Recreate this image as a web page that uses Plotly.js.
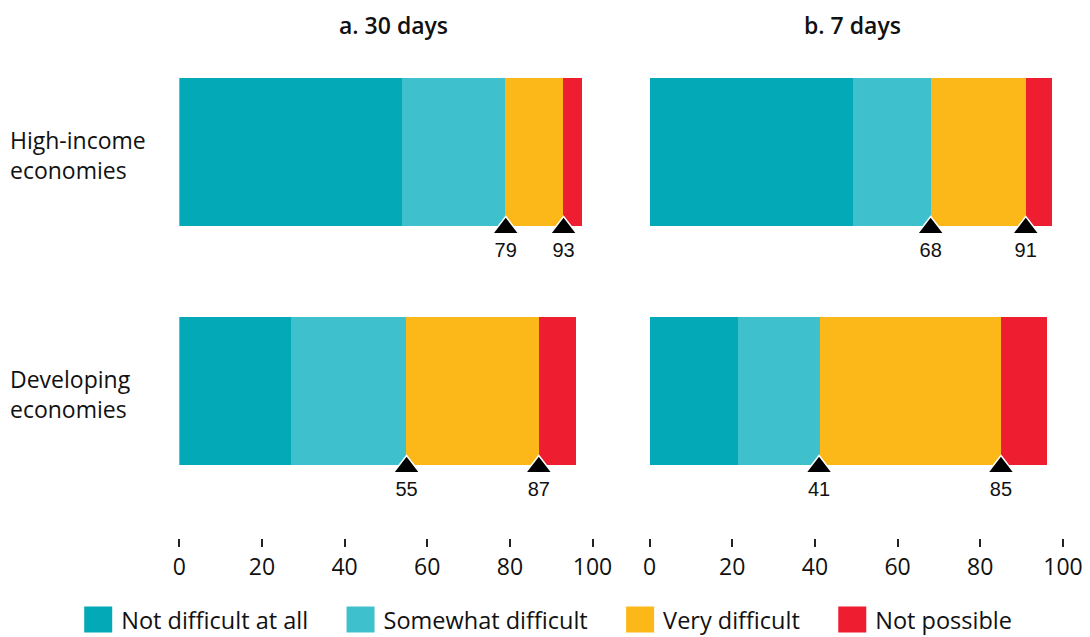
<!DOCTYPE html>
<html>
<head>
<meta charset="utf-8">
<script src="https://cdn.plot.ly/plotly-3.0.1.min.js"></script>
<style>html,body{margin:0;padding:0;background:#fff;}#chart{width:1090px;height:637px;}</style>
</head>
<body>
<div id="chart"></div>
<script>
// ---- data ----
const groups = ['High-income<br>economies', 'Developing<br>economies'];
const groupPos = [1, 0];
const panels = ['a. 30 days', 'b. 7 days'];
const seriesNames = ['Not difficult at all', 'Somewhat difficult', 'Very difficult', 'Not possible'];
const seriesColors = ['#03A9B6', '#3FC1CD', '#FCB819', '#EE1D2F'];
// 30 days: [high-income, developing]
const notDifficult30 = [54, 27];
const somewhat30 = [25, 28];
const veryDifficult30 = [14, 32];
const notPossible30 = [4.6, 9];
// 7 days: [high-income, developing]
const notDifficult7 = [49, 21.4];
const somewhat7 = [19, 19.6];
const veryDifficult7 = [23, 44];
const notPossible7 = [6.3, 11];
const xTicks = [0, 20, 40, 60, 80, 100];

const barWidth = 0.62;
const legendPad = '\u00a0\u00a0\u00a0\u00a0';
const panelData = [
  [notDifficult30, somewhat30, veryDifficult30, notPossible30],
  [notDifficult7, somewhat7, veryDifficult7, notPossible7]
];
const traces = [];
panelData.forEach((series, p) => {
  const xa = p === 0 ? 'x' : 'x2';
  series.forEach((vals, s) => {
    traces.push({
      type: 'bar', orientation: 'h', x: vals, y: groupPos, xaxis: xa, yaxis: 'y',
      name: seriesNames[s] + (s < seriesNames.length - 1 ? legendPad : ''), width: barWidth,
      marker: {color: seriesColors[s], line: {width: 0}},
      showlegend: p === 0, hoverinfo: 'skip'
    });
  });
  // cumulative markers
  const mx = [], my = [], ty = [], mt = [];
  groupPos.forEach((g, i) => {
    const c1 = series[0][i] + series[1][i];
    const c2 = c1 + series[2][i];
    [c1, c2].forEach(c => {
      mx.push(c);
      my.push(g - barWidth / 2 - 0.008);
      ty.push(g - barWidth / 2 - 0.108);
      mt.push(String(Math.round(c)));
    });
  });
  traces.push({
    type: 'scatter', mode: 'markers', x: mx, y: my, xaxis: xa, yaxis: 'y',
    marker: {symbol: 'triangle-up', size: 23, color: '#000', line: {color: '#fff', width: 1.5}},
    cliponaxis: false, showlegend: false, hoverinfo: 'skip'
  });
  traces.push({
    type: 'scatter', mode: 'text', x: mx, y: ty, xaxis: xa, yaxis: 'y',
    text: mt, textposition: 'middle center',
    textfont: {family: 'Liberation Sans, Arial, sans-serif', size: 20, color: '#111'},
    cliponaxis: false, showlegend: false, hoverinfo: 'skip'
  });
});

const axisBase = {
  range: [0, 100], tickvals: xTicks, ticks: 'outside', ticklen: 8, tickwidth: 1.5,
  tickcolor: '#222', showgrid: false, zeroline: false, showline: false,
  tickfont: {size: 23, color: '#111'}, anchor: 'y', fixedrange: true
};
const annotations = [];
panels.forEach((t, p) => {
  annotations.push({
    text: t, xref: (p === 0 ? 'x' : 'x2') + ' domain', x: 0.5, xshift: p === 0 ? 8 : -4,
    yref: 'paper', y: 0.96,
    xanchor: 'center', yanchor: 'middle', showarrow: false,
    font: {size: 23, weight: 600, color: '#111'}
  });
});
groups.forEach((g, i) => {
  annotations.push({
    text: g, xref: 'paper', x: 0.007, yref: 'y', y: groupPos[i], yshift: -3,
    xanchor: 'left', yanchor: 'middle', align: 'left', showarrow: false,
    font: {size: 23, color: '#111'}
  });
});

const layout = {
  width: 1090, height: 637, margin: {l: 0, r: 0, t: 0, b: 0, autoexpand: false},
  barmode: 'stack', bargap: 0,
  paper_bgcolor: '#fff', plot_bgcolor: '#fff',
  font: {family: 'Open Sans, sans-serif', color: '#111'},
  xaxis: Object.assign({}, axisBase, {domain: [0.1645, 0.5436]}),
  xaxis2: Object.assign({}, axisBase, {domain: [0.5959, 0.9752]}),
  yaxis: {domain: [0.1554, 0.9215], range: [-0.615, 1.427], showticklabels: false,
          showgrid: false, zeroline: false, ticks: '', fixedrange: true},
  legend: {orientation: 'h', x: 0.069, xanchor: 'left', y: 0.027, yanchor: 'middle',
           font: {size: 23.5, color: '#111'}, itemwidth: 36, traceorder: 'normal'},
  annotations: annotations
};

function enlargeSwatches() {
  document.querySelectorAll('#chart .legendpoints path').forEach(p => {
    p.setAttribute('d', 'M14,13H-14V-13H14Z');
  });
}
const gd = document.getElementById('chart');
Plotly.newPlot(gd, traces, layout, {displayModeBar: false}).then(() => {
  enlargeSwatches();
  setTimeout(enlargeSwatches, 0);
  setTimeout(enlargeSwatches, 200);
  gd.on('plotly_afterplot', enlargeSwatches);
});
</script>
</body>
</html>
